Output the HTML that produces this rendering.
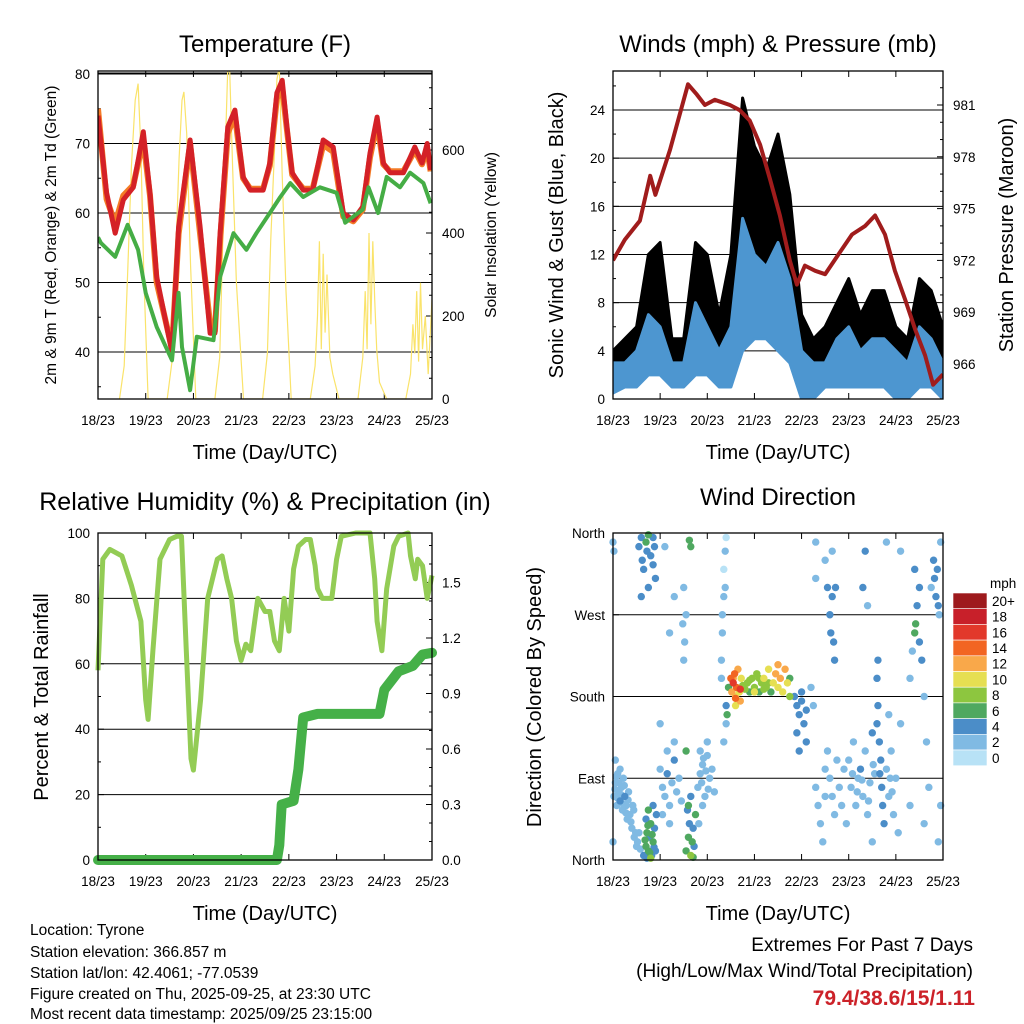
<!DOCTYPE html>
<html><head><meta charset="utf-8">
<style>
body{margin:0;background:#fff;}
svg{display:block;font-family:"Liberation Sans",sans-serif;}
</style></head>
<body>
<svg id="c" width="1024" height="1024" viewBox="0 0 1024 1024" xmlns="http://www.w3.org/2000/svg">
<g id="g1"></g>
<g id="g2"></g>
<g id="g3"></g>
<g id="g4"></g>
<g font-size="15.5" fill="#000">
<text x="30" y="935">Location: Tyrone</text>
<text x="30" y="957">Station elevation: 366.857 m</text>
<text x="30" y="978">Station lat/lon: 42.4061; -77.0539</text>
<text x="30" y="999">Figure created on Thu, 2025-09-25, at 23:30 UTC</text>
<text x="30" y="1019">Most recent data timestamp: 2025/09/25 23:15:00</text>
</g>
<g text-anchor="end">
<text x="973" y="951" font-size="19">Extremes For Past 7 Days</text>
<text x="973" y="977" font-size="19">(High/Low/Max Wind/Total Precipitation)</text>
<text x="975" y="1005" font-size="21" font-weight="bold" fill="#cc2229">79.4/38.6/15/1.11</text>
</g>
</svg>
<script>
const NS="http://www.w3.org/2000/svg";
const dayLabels=["18/23","19/23","20/23","21/23","22/23","23/23","24/23","25/23"];
const tempT=[0,0.18,0.36,0.53,0.74,0.95,1.09,1.23,1.55,1.69,1.93,2.14,2.35,2.45,2.56,2.72,2.87,3.04,3.19,3.46,3.6,3.75,3.86,3.96,4.07,4.3,4.5,4.72,4.93,5.14,5.35,5.55,5.7,5.85,5.98,6.12,6.4,6.64,6.79,6.9,6.97];
const tempV=[74,62.9,57.1,61.9,63.7,71.7,62.9,50.8,39.9,58,70.5,58,42.7,42.7,57,72.4,74.8,65.2,63.3,63.3,67.2,77.3,79.1,72.4,65.8,63.3,63.3,70.5,69.5,60,59,60.9,68.6,73.8,67.2,65.8,65.8,69.5,67.2,70,66.2];
const temp9V=[75,62,58.5,62.5,64,70.5,62.5,50,40.5,57,70,57,44,43,56,71.5,74,65,63.5,63.5,66.8,76.5,78,72,65.5,63.5,63.5,69.8,68.8,59.5,58.8,60.5,68,73,67,66,66,69,67,69.2,66];
const dewT=[0,0.06,0.36,0.62,0.84,1.0,1.23,1.55,1.69,1.76,1.93,2.07,2.42,2.56,2.84,3.11,3.32,3.6,3.82,4.03,4.3,4.65,5.0,5.18,5.55,5.67,5.87,6.05,6.33,6.54,6.82,6.97];
const dewV=[56.5,55.7,53.7,58.3,54.7,48.5,43.6,38.8,48.5,40.7,34.5,42.2,41.7,50.8,57.1,54.7,57.1,60,62.3,64.3,62.3,63.7,62.9,58.6,60.5,63.7,60,65.2,63.7,65.8,64.3,61.4];
const solarT=[0.45,0.55,0.62,0.7,0.78,0.84,0.9,0.96,1.05, 1.45,1.55,1.62,1.7,1.76,1.8,1.86,1.94,2.05, 2.45,2.55,2.62,2.68,2.72,2.76,2.82,2.9,3.05, 3.45,3.55,3.62,3.7,3.75,3.8,3.86,3.94,4.05, 4.45,4.55,4.6,4.64,4.68,4.72,4.76,4.8,4.86,4.92,5.05, 5.45,5.55,5.6,5.64,5.68,5.72,5.76,5.8,5.84,5.9,6.05, 6.45,6.55,6.6,6.64,6.68,6.72,6.76,6.8,6.86,6.92,7.0];
const solarV=[0,80,300,560,720,760,600,300,0, 0,90,320,580,720,740,640,320,0, 0,100,400,650,800,790,560,280,0, 0,110,380,600,770,800,540,260,0, 0,80,200,380,120,350,160,300,100,60,0, 0,100,260,120,400,180,380,240,120,40,0, 0,60,180,110,260,90,280,120,200,60,240];
const pressT=[0,0.25,0.57,0.79,0.9,1.21,1.59,1.78,1.95,2.16,2.48,2.69,2.9,3.12,3.33,3.54,3.75,3.9,4.07,4.29,4.5,4.77,5.07,5.35,5.56,5.77,5.98,6.2,6.41,6.62,6.79,7.0];
const pressV=[972,973.2,974.3,976.9,975.8,978.4,982.2,981.6,981,981.3,981,980.7,980.1,978.7,976.7,974.6,972,970.6,971.7,971.4,971.2,972.3,973.5,974,974.6,973.5,971.4,969.7,968,966.5,964.8,965.4];
const windT=[0,0.25,0.5,0.75,1,1.25,1.5,1.75,2,2.25,2.5,2.75,3,3.25,3.5,3.75,4,4.25,4.5,4.75,5,5.25,5.5,5.75,6,6.25,6.5,6.75,7];
const gustHi=[4,5,6,12,13,5,5,13,12,7,12,25,21,19,22,17,7,5,6,8,10,7,9,9,6,5,10,9,6];
const gustLo=[1,2,2,5,5,2,2,4,4,2,3,9,10,10,9,6,1,1,2,2,2,2,3,2,1,1,2,2,1];
const windHi=[3,3,4,7,6,3,3,8,6,4,6,15,12,11,13,10,4,3,3,5,6,4,5,5,4,3,6,5,3];
const windLo=[0.5,1,1,2,2,1,1,2,2,1,1,4,5,5,4,3,0,0,1,1,1,1,1,1,0,0,1,1,0];
const rhT=[0,0.1,0.25,0.5,0.7,0.9,1.0,1.05,1.15,1.3,1.5,1.65,1.75,1.85,1.95,2.0,2.15,2.3,2.5,2.6,2.7,2.8,2.9,3.0,3.1,3.2,3.35,3.5,3.6,3.7,3.8,3.9,4.0,4.1,4.2,4.35,4.45,4.55,4.6,4.7,4.8,4.9,5.0,5.1,5.4,5.7,5.8,5.85,5.95,6.05,6.2,6.3,6.5,6.55,6.65,6.7,6.8,6.9,7.0];
const rhV=[58,92,95,93,84,73,49,43,64,92,98,99,99,64,31,27.5,49,80,92,93,86,80,67,61,66,64,80,76,76,67,64,80,70,89,96,98,98,90,83,80,80,80,92,99,100,100,86,73,64,83,96,99,100,93,86,92,90,80,87];
const rainT=[0,3.75,3.8,3.85,4.1,4.2,4.3,4.6,5.9,6.0,6.3,6.6,6.8,7.0];
const rainV=[0,0,0.08,0.3,0.32,0.49,0.77,0.79,0.79,0.92,1.02,1.05,1.11,1.12];
const dirDay=[],dirDeg=[],dirSpd=[];
const dirPts=[[0.02,70,2],[0.05,85,2],[0.08,60,2],[0.1,95,1],[0.12,75,2],[0.15,65,3],[0.18,80,2],[0.2,55,2],[0.22,90,2],[0.25,70,3],[0.28,60,2],[0.3,45,2],[0.33,75,2],[0.36,50,2],[0.4,35,2],[0.42,60,1],[0.45,25,2],[0.5,15,2],[0.55,30,1],[0.05,110,1],[0.15,100,2],[0.0,20,1],[0.0,350,1],[0.02,340,1],
[0.04,78,2],[0.07,92,2],[0.1,68,2],[0.13,85,2],[0.17,72,2],[0.2,62,2],[0.24,82,2],[0.27,52,2],[0.32,66,2],[0.38,42,2],[0.44,55,2],[0.48,30,2],[0.52,20,2],[0.58,12,2],
[0.65,5,3],[0.7,15,6],[0.72,30,6],[0.75,10,5],[0.78,25,4],[0.8,40,5],[0.82,5,4],[0.85,20,6],[0.88,35,4],[0.9,10,4],[0.92,50,3],[0.7,45,4],[0.75,55,6],[0.8,2,7],[0.85,60,3],[0.55,345,3],[0.6,355,4],[0.62,330,4],[0.65,320,3],[0.7,350,6],[0.72,340,3],[0.75,358,6],[0.8,335,4],[0.85,325,4],[0.85,355,3],[0.88,345,3],[0.9,310,3],[0.75,300,4],[0.6,290,3],
[0.68,22,6],[0.74,38,6],[0.78,8,6],[0.83,28,5],[0.87,14,4],[0.72,2,4],
[1.0,100,1],[1.05,80,2],[1.1,70,2],[1.15,95,3],[1.2,60,2],[1.25,85,2],[1.3,110,3],[1.35,75,2],[1.4,90,2],[1.05,50,2],[1.15,120,1],[1.2,40,1],[1.3,130,2],[1.45,65,2],[1.0,150,1],[1.2,250,1],[1.1,345,1],[1.3,290,1],
[1.55,10,6],[1.6,25,6],[1.62,40,4],[1.65,5,8],[1.68,20,6],[1.7,35,4],[1.72,15,4],[1.75,50,5],[1.58,55,4],[1.6,60,5],[1.65,70,4],[1.7,3,6],[1.62,352,6],[1.65,345,6],[1.55,120,6],[1.5,220,2],[1.52,240,2],[1.55,270,2],[1.5,300,1],[1.48,260,2],
[1.8,80,2],[1.85,95,2],[1.9,105,2],[1.95,70,2],[2.0,115,2],[2.05,90,2],[2.1,100,2],[1.85,120,2],[1.9,60,1],[2.0,130,1],[1.82,40,1],[2.15,75,1],[1.88,85,2],[1.97,98,2],[2.02,78,2],[1.92,112,2],
[2.3,220,1],[2.32,250,1],[2.35,290,1],[2.35,320,0],[2.38,340,1],[2.4,355,0],[2.32,270,1],[2.38,300,1],[2.3,200,1],[2.4,150,1],[2.35,130,1],[2.4,170,4],[2.42,160,6],
[2.45,190,6],[2.5,200,14],[2.52,185,12],[2.55,195,16],[2.58,205,14],[2.6,180,10],[2.62,190,14],[2.65,210,12],[2.68,185,10],[2.7,175,12],[2.72,200,10],[2.75,192,8],[2.8,188,8],[2.85,195,8],[2.9,185,6],[2.95,200,8],[3.0,190,8],[3.05,205,8],[3.1,185,6],[3.15,195,8],[3.2,200,10],[3.25,190,8],[3.3,210,10],[3.35,185,6],[3.4,195,10],[3.45,205,12],[3.5,190,10],[3.55,200,12],[3.6,185,10],[3.65,210,12],[3.7,195,10],[3.75,180,8],[3.75,200,6],[3.3,195,8],[2.6,170,10],[2.55,200,12],[3.5,215,12],[2.7,188,16],[2.6,178,14],[2.9,198,7],[3.1,200,7],[3.0,185,9],[3.2,188,8],
[3.85,180,4],[3.9,170,4],[3.95,160,4],[4.0,175,4],[4.05,150,3],[4.1,165,4],[3.9,140,4],[3.95,120,3],[4.0,185,4],[4.1,130,4],[4.2,190,2],[4.25,170,2],[4.3,350,1],[4.3,310,1],
[4.3,80,1],[4.35,60,1],[4.4,40,1],[4.45,20,1],[4.5,100,1],[4.5,70,1],[4.55,300,4],[4.55,120,2],[4.6,270,4],[4.62,250,4],[4.65,290,4],[4.68,240,4],[4.7,220,3],[4.72,300,3],[4.6,90,2],[4.65,70,2],[4.7,50,2],[4.75,110,2],[4.8,80,2],[4.85,60,2],[4.9,100,2],[4.95,40,2],[4.5,330,1],[4.65,340,2],
[5.0,110,2],[5.05,80,2],[5.1,130,2],[5.15,60,2],[5.2,90,2],[5.25,100,3],[5.3,70,2],[5.35,120,2],[5.4,50,2],[5.45,85,2],[5.5,140,3],[5.55,95,2],[5.3,300,4],[5.35,340,4],[5.4,280,2],[5.6,150,4],[5.62,170,4],[5.65,130,4],[5.68,110,4],[5.7,80,4],[5.72,60,4],[5.75,40,3],[5.6,200,4],[5.62,220,3],[5.8,100,2],[5.85,70,2],[5.9,120,2],[5.95,50,2],[6.0,90,2],[6.05,30,1],[5.85,160,1],[5.8,350,1],[6.1,340,1],[6.1,150,1],[5.5,20,1],
[5.08,95,2],[5.18,75,2],[5.28,88,2],[5.42,65,2],[5.52,105,2],[5.66,95,4],[5.88,90,2],[5.92,75,2],
[6.3,200,1],[6.35,230,2],[6.4,250,6],[6.42,260,6],[6.45,280,4],[6.5,300,4],[6.4,320,3],[6.5,240,4],[6.55,220,4],[6.6,180,2],[6.65,130,1],[6.7,80,1],[6.75,300,2],[6.8,330,4],[6.82,310,4],[6.85,290,4],[6.88,320,3],[6.9,280,4],[6.95,350,2],[6.92,270,2],[6.95,60,1],[6.9,20,1],[6.3,60,1],[6.6,40,1]];
dirPts.forEach(p=>{dirDay.push(p[0]);dirDeg.push(p[1]);dirSpd.push(p[2]);});
const cbLabels=["20+","18","16","14","12","10","8","6","4","2","0"];
const cbColors=["#9e1a1d","#c8202a","#e2382b","#f26522","#f9a84a","#e6df52","#8dc63f","#4fa860","#4b8dc8","#80bae3","#b8e2f6"];

function el(parent,tag,attrs){const e=document.createElementNS(NS,tag);for(const k in attrs)e.setAttribute(k,attrs[k]);parent.appendChild(e);return e;}
function txt(parent,s,x,y,size,anchor,rot){const t=el(parent,"text",{x:x,y:y,"font-size":size,"text-anchor":anchor||"middle"});if(rot)t.setAttribute("transform","rotate("+rot+" "+x+" "+y+")");t.textContent=s;return t;}
function lin(a0,a1,p0,p1){return v=>p0+(v-a0)/(a1-a0)*(p1-p0);}
function path(pts){return pts.map((p,i)=>(i?"L":"M")+p[0].toFixed(1)+" "+p[1].toFixed(1)).join("");}

function panel(g,box,title,ty,tsize){
 const [L,T,R,B]=box;
 const X=lin(0,7,L,R);
 const tt=txt(g,title,(L+R)/2,ty||52,tsize||24);
 
 
 const xl=txt(g,"Time (Day/UTC)",(L+R)/2,B+60,20);
 
 
 dayLabels.forEach((d,i)=>{const x=X(i);
  el(g,"line",{x1:x,y1:B,x2:x,y2:B-6,stroke:"#000","stroke-width":1});
  el(g,"line",{x1:x,y1:T,x2:x,y2:T+6,stroke:"#000","stroke-width":1});
  const t=txt(g,d,x,B+26,13.5);
  
  });
 return X;
}
function yticks(g,box,vals,labels,Y,side,minor,grid){
 const [L,T,R,B]=box;
 if(grid)vals.forEach(v=>{const y=Y(v);if(y>T+1&&y<B-1)el(g,"line",{x1:L,y1:y,x2:R,y2:y,stroke:"#000","stroke-width":1});});
 vals.forEach((v,i)=>{const y=Y(v);
  if(side==="L"){el(g,"line",{x1:L,y1:y,x2:L+6,y2:y,stroke:"#000"});const t=txt(g,labels[i],L-8,y+5,13.5,"end");}
  else{el(g,"line",{x1:R,y1:y,x2:R-6,y2:y,stroke:"#000"});const t=txt(g,labels[i],R+10,y+5,13.5,"start");}
 });
 (minor||[]).forEach(v=>{const y=Y(v);if(y<T||y>B)return;if(side==="L")el(g,"line",{x1:L,y1:y,x2:L+3,y2:y,stroke:"#000"});else el(g,"line",{x1:R,y1:y,x2:R-3,y2:y,stroke:"#000"});});
}
function frame(g,box){const [L,T,R,B]=box;const r=el(g,"rect",{x:L,y:T,width:R-L,height:B-T,fill:"none",stroke:"#000","stroke-width":1.3});}
function clip(id,box){const d=el(document.getElementById("c"),"clipPath",{id:id});el(d,"rect",{x:box[0],y:box[1],width:box[2]-box[0],height:box[3]-box[1]});return "url(#"+id+")";}

(function(){
 const g=document.getElementById("g1");const box=[98,71,432,399];
 const X=panel(g,box,"Temperature (F)");
 const Y=lin(40,80,352,74), S=lin(0,600,399,150);
 yticks(g,box,[40,50,60,70,80],["40","50","60","70","80"],Y,"L",[35,45,55,65,75],true);
 yticks(g,box,[0,200,400,600],["0","200","400","600"],S,"R",[50,100,150,250,300,350,450,500,550,650,700,750]);
 el(g,"line",{x1:98,y1:73,x2:432,y2:73,stroke:"#000"});
 const cp=clip("cp1",box);
 const pl=el(g,"g",{"clip-path":cp});
 const sp=el(pl,"path",{d:path(solarT.map((t,i)=>[X(t),S(solarV[i])])),fill:"none",stroke:"#fae36a","stroke-width":1.2});
 
 const o=el(pl,"path",{d:path(tempT.map((t,i)=>[X(t),Y(temp9V[i])])),fill:"none",stroke:"#f47b26","stroke-width":6,"stroke-linejoin":"round"});
 
 const r=el(pl,"path",{d:path(tempT.map((t,i)=>[X(t),Y(tempV[i])])),fill:"none",stroke:"#d42127","stroke-width":5,"stroke-linejoin":"round"});
 
 const d=el(pl,"path",{d:path(dewT.map((t,i)=>[X(t),Y(dewV[i])])),fill:"none",stroke:"#45ad45","stroke-width":4,"stroke-linejoin":"round"});
 
 frame(g,box);
 const a=txt(g,"2m & 9m T (Red, Orange) & 2m Td (Green)",56,235,15.5,"middle",-90);
 const b=txt(g,"Solar Insolation (Yellow)",496,235,15.5,"middle",-90);
})();

(function(){
 const g=document.getElementById("g2");const box=[613,71,943,399];
 const X=panel(g,box,"Winds (mph) & Pressure (mb)");
 const Y=lin(0,24,399,110), P=lin(966,981,364,105);
 yticks(g,box,[0,4,8,12,16,20,24],["0","4","8","12","16","20","24"],Y,"L",[2,6,10,14,18,22,26],true);
 yticks(g,box,[966,969,972,975,978,981],["966","969","972","975","978","981"],P,"R",[964,965,967,968,970,971,973,974,976,977,979,980,982,983]);
 const cp=clip("cp2",box);const pl=el(g,"g",{"clip-path":cp});
 const gu=el(pl,"path",{d:path(windT.map((t,i)=>[X(t),Y(gustHi[i])]).concat(windT.map((t,i)=>[X(t),Y(gustLo[i])]).reverse()))+"Z",fill:"#000",stroke:"#000","stroke-width":3,"stroke-linejoin":"round"});
 
 const wi=el(pl,"path",{d:path(windT.map((t,i)=>[X(t),Y(windHi[i])]).concat(windT.map((t,i)=>[X(t),Y(windLo[i])]).reverse()))+"Z",fill:"#4d96d0",stroke:"#4d96d0","stroke-width":3,"stroke-linejoin":"round"});
 
 const pr=el(pl,"path",{d:path(pressT.map((t,i)=>[X(t),P(pressV[i])])),fill:"none",stroke:"#a01c1c","stroke-width":4,"stroke-linejoin":"round"});
 
 frame(g,box);
 const a=txt(g,"Sonic Wind & Gust (Blue, Black)",563,235,20,"middle",-90);
 const b=txt(g,"Station Pressure (Maroon)",1013,235,20,"middle",-90);
})();

(function(){
 const g=document.getElementById("g3");const box=[98,533,432,860];
 const X=panel(g,box,"Relative Humidity (%) & Precipitation (in)",510,25);
 const Y=lin(0,100,860,533), Rn=lin(0,1.5,860,582.5);
 yticks(g,box,[0,20,40,60,80,100],["0","20","40","60","80","100"],Y,"L",[10,30,50,70,90],true);
 yticks(g,box,[0,0.3,0.6,0.9,1.2,1.5],["0.0","0.3","0.6","0.9","1.2","1.5"],Rn,"R",[0.1,0.2,0.4,0.5,0.7,0.8,1.0,1.1,1.3,1.4,1.6,1.7]);
 const cp=clip("cp3",[90,525,440,868]);const pl=el(g,"g",{"clip-path":cp});
 const rh=el(pl,"path",{d:path(rhT.map((t,i)=>[X(t),Y(rhV[i])])),fill:"none",stroke:"#93cc55","stroke-width":5,"stroke-linejoin":"round"});
 
 const rn=el(pl,"path",{d:path(rainT.map((t,i)=>[X(t),Rn(rainV[i])])),fill:"none",stroke:"#45b048","stroke-width":10,"stroke-linejoin":"round","stroke-linecap":"round"});
 
 frame(g,box);
 const a=txt(g,"Percent & Total Rainfall",48,697,20,"middle",-90);
})();

(function(){
 const g=document.getElementById("g4");const box=[613,533,943,860];
 const X=panel(g,box,"Wind Direction",505,24);
 const Y=lin(0,360,860,533);
 yticks(g,box,[0,90,180,270,360],["North","East","South","West","North"],Y,"L",[],true);
 const cp=clip("cp4",[609,529,947,864]);const pl=el(g,"g",{"clip-path":cp});
 const order=dirSpd.map((s,i)=>i).sort((a,b)=>dirSpd[a]-dirSpd[b]);
 order.forEach(i=>{
  const ci=10-Math.min(10,Math.round(dirSpd[i]/2));
  const c=el(pl,"circle",{cx:X(dirDay[i]),cy:Y(dirDeg[i]),r:3.7,fill:cbColors[ci]});
  
  
 });
 frame(g,box);
 const a=txt(g,"Direction (Colored By Speed)",541,697,20,"middle",-90);
 const cb=el(g,"g",{});
 
 const h=15.7;
 cbColors.forEach((c,i)=>{
  const r=el(cb,"rect",{x:953,y:593+i*h,width:34,height:h,fill:c,stroke:"#fff","stroke-width":0.6});
  
  const t=txt(cb,cbLabels[i],992,593+i*h+h/2+5,13.5,"start");
  
 });
 const m=txt(cb,"mph",990,588,13.5,"start");
})();
</script>
</body></html>
